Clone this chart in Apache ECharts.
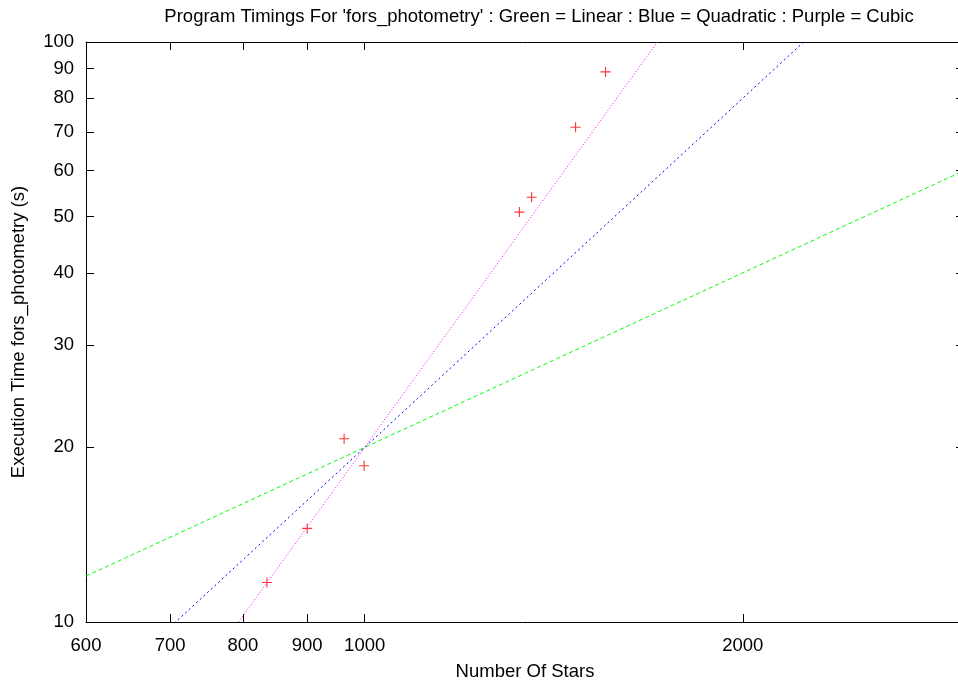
<!DOCTYPE html>
<html><head><meta charset="utf-8">
<script src="https://cdn.jsdelivr.net/npm/echarts@6/dist/echarts.min.js"></script>
<style>html,body{margin:0;padding:0;background:#fff}#c{width:958px;height:683px}</style>
</head><body><div id="c"></div>
<script>
const titleText = "Program Timings For 'fors_photometry' : Green = Linear : Blue = Quadratic : Purple = Cubic";
const xTicks = [600, 700, 800, 900, 1000, 2000, 3000];
const xLabels = [600, 700, 800, 900, 1000, 2000];
const yTicks = [10, 20, 30, 40, 50, 60, 70, 80, 90, 100];
const starCounts = [836, 900, 963, 999, 1328, 1358, 1472, 1555];
const execTimes = [11.7, 14.5, 20.7, 18.6, 50.9, 54.0, 71.3, 88.8];
const linearLine = [[600, 12], [3000, 60]];
const quadraticLine = [[600, 7.2], [3000, 180]];
const cubicLine = [[600, 4.32], [3000, 540]];

const FONT = 'Liberation Sans';
const FS = 18.5;
const chart = echarts.init(document.getElementById('c'), null, {renderer: 'canvas'});
const fmt = v => String(Math.round(v));
const xAxisBase = (pos, show) => ({
  type: 'log', logBase: 10, min: 600, max: 3000, position: pos,
  axisLine: {show: true, onZero: false, lineStyle: {color: '#000', width: 1}},
  axisTick: {show: true, inside: true, length: 8, customValues: xTicks, lineStyle: {color: '#000'}},
  axisLabel: {show: show, customValues: xLabels, formatter: fmt, color: '#000', fontFamily: FONT, fontSize: FS, margin: 14},
  splitLine: {show: false}, minorTick: {show: false}
});
const yAxisBase = (pos, show) => ({
  type: 'log', logBase: 10, min: 10, max: 100, position: pos,
  axisLine: {show: true, onZero: false, lineStyle: {color: '#000', width: 1}},
  axisTick: {show: true, inside: true, length: 8, customValues: yTicks, lineStyle: {color: '#000'}},
  axisLabel: {show: show, customValues: yTicks, formatter: fmt, color: '#000', fontFamily: FONT, fontSize: FS, margin: 12},
  splitLine: {show: false}, minorTick: {show: false}
});
const xa0 = xAxisBase('bottom', true);
xa0.name = 'Number Of Stars'; xa0.nameLocation = 'middle'; xa0.nameGap = 40;
xa0.nameTextStyle = {color: '#000', fontFamily: FONT, fontSize: FS};
const ya0 = yAxisBase('left', true);
ya0.name = 'Execution Time fors_photometry (s)'; ya0.nameLocation = 'middle'; ya0.nameGap = 58;
ya0.nameTextStyle = {color: '#000', fontFamily: FONT, fontSize: FS};
const plus = 'path://M4,0h1v4h4v1h-4v4h-1v-4h-4v-1h4z';
chart.setOption({
  animation: false,
  backgroundColor: '#fff',
  title: {text: titleText, left: 534, top: 2, textAlign: 'center',
    textStyle: {color: '#000', fontFamily: FONT, fontSize: FS, fontWeight: 'normal'}},
  grid: {left: 86, top: 42, bottom: 61, width: 878, containLabel: false, outerBoundsMode: 'none'},
  xAxis: [xa0, xAxisBase('top', false)],
  yAxis: [ya0, yAxisBase('right', false)],
  series: [
    {type: 'line', data: linearLine, showSymbol: false, clip: true,
      lineStyle: {color: '#00ff00', width: 1, type: [4, 3]}},
    {type: 'line', data: quadraticLine, showSymbol: false, clip: true,
      lineStyle: {color: '#0000ff', width: 1, type: [2, 3]}},
    {type: 'line', data: cubicLine, showSymbol: false, clip: true,
      lineStyle: {color: '#ff00ff', width: 1, type: [1, 2]}},
    {type: 'scatter', data: starCounts.map((x, i) => [x, execTimes[i]]),
      symbol: plus, symbolSize: 10, itemStyle: {color: '#ff0000'}, clip: true}
  ]
});
</script></body></html>
